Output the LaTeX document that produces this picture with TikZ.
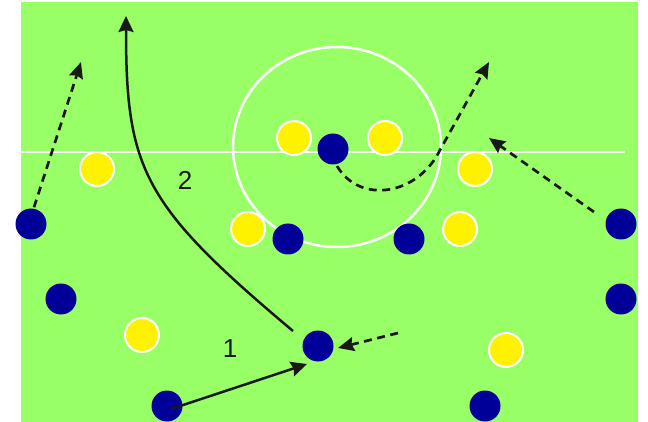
\documentclass[tikz,border=0pt]{standalone}
\usepackage{fontspec}
\setmainfont{Liberation Sans}
\usetikzlibrary{arrows.meta}
\definecolor{fieldgreen}{RGB}{153,255,102}
\definecolor{navy}{RGB}{0,0,153}
\definecolor{ink}{RGB}{25,25,25}
\begin{document}
\begin{tikzpicture}[x=1pt,y=-1pt,
  bdot/.style={circle, fill=navy, minimum size=31pt, inner sep=0pt},
  ydot/.style={circle, fill=yellow, draw=white, line width=2pt, minimum size=34pt, inner sep=0pt},
  runarrow/.style={line width=2.5pt, draw=ink, -{Stealth[length=16pt,width=15pt,inset=2pt]}},
  dasharrow/.style={line width=2.7pt, draw=ink, dash pattern=on 8pt off 5.5pt, -{Stealth[length=16pt,width=14pt,inset=2pt]}},
  lbl/.style={text=ink, font=\fontsize{26}{30}\selectfont, inner sep=0pt},
  fieldline/.style={draw=white, line width=2.5pt}]
\useasboundingbox (0,0) rectangle (648,422);
\fill[fieldgreen] (21,2) rectangle (638,422);
\path[fieldline] (21,152) -- (625,152);
\path[fieldline] (337,147) ellipse [x radius=104pt, y radius=100pt];

% yellow players
\node[ydot] (y1) at (97,169) {};
\node[ydot] (y2) at (294,138) {};
\node[ydot] (y3) at (385,138) {};
\node[ydot] (y4) at (248,229) {};
\node[ydot] (y5) at (475,169) {};
\node[ydot] (y6) at (460,229) {};
\node[ydot] (y7) at (142,335) {};
\node[ydot] (y8) at (506,350) {};

% blue players
\node[bdot] (b1) at (31,224) {};
\node[bdot] (b2) at (61,299) {};
\node[bdot] (b3) at (167,406) {};
\node[bdot] (b4) at (318,346) {};
\node[bdot] (b5) at (333,149) {};
\node[bdot] (b6) at (288,239) {};
\node[bdot] (b7) at (409,239) {};
\node[bdot] (b8) at (621,224) {};
\node[bdot] (b9) at (621,299) {};
\node[bdot] (b10) at (485,406) {};

% free ends
\coordinate (t1) at (81,62);
\coordinate (s2) at (293,331);
\coordinate (t2) at (126,16);
\coordinate (s3) at (171,409);
\coordinate (t3) at (307,364);
\coordinate (s4) at (398,333);
\coordinate (t4) at (338,348);
\coordinate (s5) at (337,166);
\coordinate (m5) at (440,150);
\coordinate (t5) at (489,62);
\coordinate (s6) at (594,212);
\coordinate (t6) at (489,138);

\draw[dasharrow] (b1.north) ++(3,-1) -- (t1);
\draw[runarrow] (s2) .. controls (143,205) and (126,170) .. (t2);
\draw[runarrow] (s3) -- (t3);
\draw[dasharrow] (s4) -- (t4);
\draw[dasharrow] (s5) .. controls (360,205) and (418,195) .. (m5) -- (t5);
\draw[dasharrow] (s6) -- (t6);

\node[lbl] (l2) at (185,180) {2};
\node[lbl] (l1) at (230,349) {1};
\end{tikzpicture}
\end{document}
